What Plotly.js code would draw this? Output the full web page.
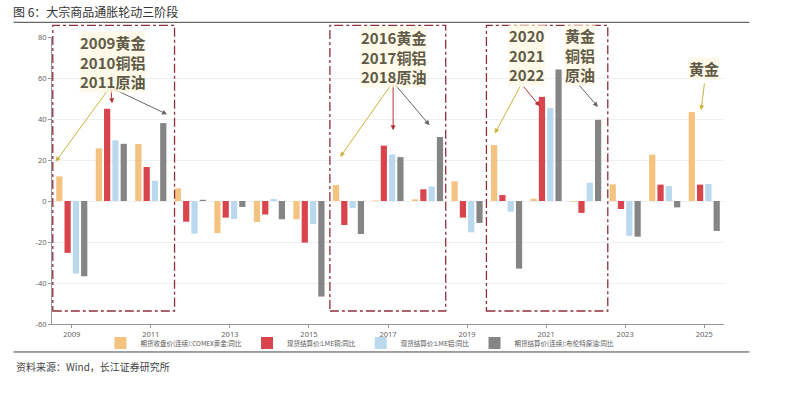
<!DOCTYPE html>
<html><head><meta charset="utf-8">
<script src="https://cdn.plot.ly/plotly-3.0.1.min.js"></script>
<style>body{margin:0;background:#fff}#c{width:800px;height:393px}</style>
</head><body><div id="c"></div>
<script>
const years = [2009,2010,2011,2012,2013,2014,2015,2016,2017,2018,2019,2020,2021,2022,2023,2024,2025];
const gold   = [12, 25.7, 27.8, 6.2, -15.6, -10.2, -8.9, 7.8, 0.3, 0.8, 9.6, 27.3, 1.1, -0.3, 8.1, 22.6, 43.4];
const copper = [-25.3, 45, 16.6, -10.1, -8.1, -6.6, -20.3, -11.7, 27, 5.7, -8.1, 2.9, 50.8, -5.8, -3.9, 8.0, 8.0];
const alum   = [-35.4, 29.6, 9.9, -15.9, -8.8, 1.0, -11.2, -3.4, 22.7, 7.1, -15.3, -5.2, 45.3, 8.9, -17, 7.3, 8.3];
const brent  = [-36.7, 27.9, 38, 0.6, -2.9, -8.9, -46.6, -16.1, 21.4, 31.2, -10.7, -33, 64.2, 39.6, -17.4, -3.1, -14.6];
const seriesNames = ['期货收盘价(连续):COMEX黄金:同比','现货结算价:LME铜:同比','现货结算价:LME铝:同比','期货结算价(连续):布伦特原油:同比'];
const colors = ['#F4C37F','#D9454D','#BBD9EE','#858585'];
const xTicks = [2009,2011,2013,2015,2017,2019,2021,2023,2025];
const yTicks = [-60,-40,-20,0,20,40,60,80];

// phase boxes: [x0, x1]
const boxes = [[2008.52, 2011.6],[2015.53, 2018.46],[2019.49, 2022.56]];
// labels: [text, x, y]
const labels = [
  ['2009黄金<br>2010铜铝<br>2011原油', 2010.04, 67.8],
  ['2016黄金<br>2017铜铝<br>2018原油', 2017.15, 70.3],
  ['2020<br>2021<br>2022', 2020.51, 71.1],
  ['黄金<br>铜铝<br>原油', 2021.85, 71.1],
  ['黄金', 2025.0, 64.7]
];
// arrows: [headX, headY, tailX, tailY, color]
const arrows = [
  [2008.59, 19.1, 2009.965, 55.5, '#c9b43c'],
  [2010.02, 47.7, 2009.99, 55.0, '#b8323c'],
  [2011.41, 42.3, 2010.02, 55.0, '#666666'],
  [2015.79, 21.5, 2017.10, 57.3, '#c9b43c'],
  [2017.13, 34.5, 2017.13, 57.3, '#b8323c'],
  [2018.05, 37.0, 2017.16, 57.3, '#666666'],
  [2019.70, 32.9, 2020.36, 56.5, '#c9b43c'],
  [2020.84, 46.2, 2020.40, 56.5, '#b8323c'],
  [2022.31, 45.9, 2021.80, 57.3, '#666666'],
  [2024.92, 44.3, 2025.01, 58.1, '#c9b43c']
];

const vals = [gold, copper, alum, brent];
const traces = vals.map((v,i)=>({
  type:'bar', x: years, y: v, name: seriesNames[i],
  marker:{color: colors[i]}, hoverinfo:'skip'
}));

const L=51.5, W=673, T=36.7, H=287.3;
const px = p => (p-L)/W, py = p => (T+H-p)/H;

const shapes = boxes.map(b=>({type:'rect', xref:'x', yref:'paper', x0:b[0], x1:b[1], y0:py(311), y1:py(25),
  line:{color:'#8e2f3e', width:1.3, dash:'dashdot'}, fillcolor:'rgba(0,0,0,0)', layer:'above'}));
shapes.push({type:'line', xref:'paper', yref:'paper', x0:px(13), x1:px(750), y0:py(22), y1:py(22), line:{color:'#444', width:1}});
shapes.push({type:'line', xref:'paper', yref:'paper', x0:px(13), x1:px(750), y0:py(352), y1:py(352), line:{color:'#444', width:1}});

const annotations = [];
arrows.forEach(a=>annotations.push({xref:'x', yref:'y', axref:'x', ayref:'y', x:a[0], y:a[1], ax:a[2], ay:a[3],
  text:'', showarrow:true, arrowhead:2, arrowsize:1, arrowwidth:1, arrowcolor:a[4], standoff:0}));
labels.forEach(l=>annotations.push({xref:'x', yref:'y', x:l[1], y:l[2], text:'<b>'+l[0]+'</b>', showarrow:false,
  font:{family:'Noto Sans CJK SC', size:15, color:'#5f5a47'}, bgcolor:'rgba(253,246,222,0.7)', borderpad:0, align:'center'}));
annotations.push({xref:'paper', yref:'paper', x:px(13), y:py(367), xanchor:'left', yanchor:'middle', showarrow:false,
  text:'资料来源：Wind，长江证券研究所', font:{family:'Noto Sans CJK SC', size:10, color:'#444'}});

const layout = {
  width:800, height:393,
  margin:{l:L, r:800-L-W, t:T, b:393-T-H, pad:0},
  paper_bgcolor:'#fff', plot_bgcolor:'#fff',
  title:{text:'图 6：大宗商品通胀轮动三阶段', x:13/800, xanchor:'left', y:1-13/393, yanchor:'middle', yref:'container',
    font:{family:'Noto Sans CJK SC', size:12, color:'#333'}},
  barmode:'group', bargap:0.16, bargroupgap:0.25,
  xaxis:{range:[2008.5,2025.5], tickvals:xTicks, ticktext:xTicks.map(String), showgrid:false, zeroline:false,
    showline:true, linecolor:'#999', linewidth:1, ticks:'outside', ticklen:3, tickcolor:'#999',
    tickfont:{family:'Noto Sans', size:7.5, color:'#666'}},
  yaxis:{range:[-60,80], tickvals:yTicks, ticktext:yTicks.map(String), showgrid:true, gridcolor:'#f0f0f0', zeroline:false,
    showline:true, linecolor:'#999', linewidth:1, ticks:'outside', ticklen:3, tickcolor:'#999',
    tickfont:{family:'Noto Sans', size:7.5, color:'#666'}},
  legend:{orientation:'h', x:px(100), xanchor:'left', y:py(343), yanchor:'middle',
    font:{family:'Noto Sans CJK SC', size:6.5, color:'#555'}, itemwidth:30, tracegroupgap:0, bgcolor:'rgba(0,0,0,0)'},
  shapes:shapes, annotations:annotations
};
Plotly.newPlot('c', traces, layout, {staticPlot:true});
</script></body></html>
